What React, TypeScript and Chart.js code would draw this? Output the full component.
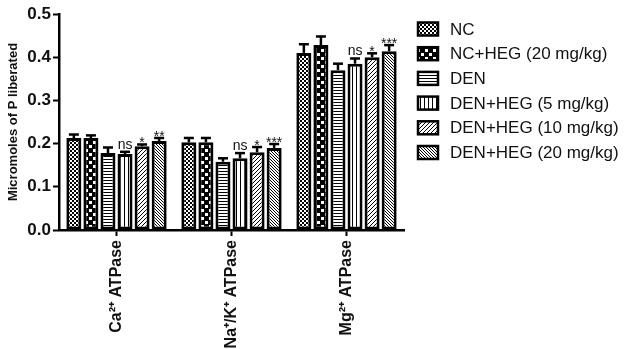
import React, { useEffect, useRef } from "react";
import { Chart, registerables } from "chart.js";
Chart.register(...registerables);

const categories = ["Ca²⁺ ATPase", "Na⁺/K⁺ ATPase", "Mg²⁺ ATPase"];
const seriesNames = [
  "NC",
  "NC+HEG (20 mg/kg)",
  "DEN",
  "DEN+HEG (5 mg/kg)",
  "DEN+HEG (10 mg/kg)",
  "DEN+HEG (20 mg/kg)",
];
const ncValues = [0.213, 0.203, 0.41];
const ncHegValues = [0.213, 0.203, 0.428];
const denValues = [0.178, 0.158, 0.37];
const den5Values = [0.176, 0.166, 0.385];
const den10Values = [0.194, 0.18, 0.4];
const den20Values = [0.206, 0.19, 0.414];

const ncErr = [0.008, 0.01, 0.02];
const ncHegErr = [0.006, 0.01, 0.02];
const denErr = [0.013, 0.008, 0.015];
const den5Err = [0.005, 0.012, 0.012];
const den10Err = [0.004, 0.012, 0.009];
const den20Err = [0.007, 0.009, 0.014];

const ncSig = ["", "", ""];
const ncHegSig = ["", "", ""];
const denSig = ["", "", ""];
const den5Sig = ["ns", "ns", "ns"];
const den10Sig = ["*", "*", "*"];
const den20Sig = ["**", "***", "***"];

const yTicks = [0, 0.1, 0.2, 0.3, 0.4, 0.5];
const yTitle = "Micromoles of P liberated";

const allValues = [ncValues, ncHegValues, denValues, den5Values, den10Values, den20Values];
const allErrs = [ncErr, ncHegErr, denErr, den5Err, den10Err, den20Err];
const allSigs = [ncSig, ncHegSig, denSig, den5Sig, den10Sig, den20Sig];
const patternKinds = ["fine", "checker", "hlines", "vlines", "diagUp", "diagDown"];

const FONT = "'Liberation Sans', Arial, sans-serif";

function makePattern(kind: string): CanvasPattern | string {
  const c = document.createElement("canvas");
  let s = 4;
  if (kind === "checker") s = 8;
  if (kind === "hlines") s = 3;
  if (kind === "vlines") s = 4;
  if (kind === "diagUp") s = 4;
  if (kind === "diagDown") s = 3;
  c.width = s;
  c.height = s;
  const ctx = c.getContext("2d")!;
  ctx.fillStyle = "#fff";
  ctx.fillRect(0, 0, s, s);
  ctx.fillStyle = "#000";
  if (kind === "fine") {
    ctx.fillRect(0, 0, 2, 2);
    ctx.fillRect(2, 2, 2, 2);
  } else if (kind === "checker") {
    ctx.fillRect(0, 0, s, s);
    ctx.fillStyle = "#fff";
    ctx.fillRect(1, 1, 3, 3);
    ctx.fillRect(5, 5, 3, 3);
  } else if (kind === "hlines") {
    ctx.fillRect(0, 0, s, 1);
  } else if (kind === "vlines") {
    ctx.fillRect(0, 0, 1, s);
  } else if (kind === "diagUp") {
    for (let i = 0; i < s; i++) ctx.fillRect(i, s - 1 - i, 1, 1);
  } else if (kind === "diagDown") {
    for (let i = 0; i < s; i++) ctx.fillRect(i, i, 1, 1);
  }
  return ctx.createPattern(c, "repeat") || "#888";
}

export default function App() {
  const ref = useRef<HTMLCanvasElement | null>(null);

  useEffect(() => {
    document.body.style.margin = "0";
    const canvas = ref.current;
    if (!canvas) return;
    const patterns = patternKinds.map((k) => makePattern(k));

    const errPlugin = {
      id: "errbars",
      afterDatasetsDraw(chart: any) {
        const ctx = chart.ctx as CanvasRenderingContext2D;
        const ys = chart.scales.y;
        chart.data.datasets.forEach((_ds: any, di: number) => {
          const meta = chart.getDatasetMeta(di);
          meta.data.forEach((bar: any, i: number) => {
            const v = allValues[di][i];
            const e = allErrs[di][i];
            const x = bar.x;
            const yTop = ys.getPixelForValue(v);
            const yErr = ys.getPixelForValue(v + e);
            ctx.save();
            ctx.strokeStyle = "#000";
            ctx.lineWidth = 2.5;
            ctx.beginPath();
            ctx.moveTo(x, yTop);
            ctx.lineTo(x, yErr);
            ctx.stroke();
            ctx.beginPath();
            ctx.moveTo(x - 5, yErr);
            ctx.lineTo(x + 5, yErr);
            ctx.stroke();
            const s = allSigs[di][i];
            if (s) {
              ctx.fillStyle = "#111";
              ctx.font = `14px ${FONT}`;
              ctx.textAlign = "center";
              ctx.textBaseline = "alphabetic";
              const off = s.startsWith("*") ? 3 : -3;
              ctx.fillText(s, x, yErr + off);
            }
            ctx.restore();
          });
        });
      },
    };

    const legendPlugin = {
      id: "customLegend",
      afterDraw(chart: any) {
        const ctx = chart.ctx as CanvasRenderingContext2D;
        ctx.save();
        seriesNames.forEach((name, i) => {
          const cy = 29 + i * 24.7;
          ctx.fillStyle = patterns[i] as any;
          ctx.fillRect(418, cy - 6.5, 20, 13);
          ctx.strokeStyle = "#000";
          ctx.lineWidth = 2.5;
          ctx.strokeRect(418, cy - 6.5, 20, 13);
          ctx.fillStyle = "#111";
          ctx.font = `17px ${FONT}`;
          ctx.textAlign = "left";
          ctx.textBaseline = "middle";
          ctx.fillText(name, 450, cy + 1);
        });
        ctx.restore();
      },
    };

    const chart = new Chart(canvas, {
      type: "bar",
      data: {
        labels: categories,
        datasets: seriesNames.map((name, i) => ({
          label: name,
          data: allValues[i],
          backgroundColor: patterns[i] as any,
          borderColor: "#000",
          borderWidth: 3,
          borderSkipped: false,
          categoryPercentage: 0.89,
          barPercentage: 0.88,
        })),
      },
      options: {
        responsive: false,
        animation: false,
        layout: { padding: { top: 14, right: 223, bottom: 0, left: 0 } },
        plugins: {
          legend: { display: false },
          tooltip: { enabled: false },
        },
        scales: {
          x: {
            afterFit: (scale: any) => {
              scale.height = 119;
            },
            grid: {
              offset: false,
              drawOnChartArea: false,
              drawTicks: true,
              tickLength: 6,
              tickWidth: 2,
              color: "#000",
            },
            border: { display: true, color: "#000", width: 2.5 },
            ticks: {
              color: "#111",
              font: { family: FONT, size: 16, weight: "bold" },
              maxRotation: 90,
              minRotation: 90,
              padding: 4,
              autoSkip: false,
            },
          },
          y: {
            min: 0,
            max: 0.5,
            afterFit: (scale: any) => {
              scale.width = 59;
            },
            afterBuildTicks: (scale: any) => {
              scale.ticks = yTicks.map((v) => ({ value: v }));
            },
            grid: {
              drawOnChartArea: false,
              drawTicks: true,
              tickLength: 6,
              tickWidth: 2,
              color: "#000",
            },
            border: { display: true, color: "#000", width: 2.5 },
            ticks: {
              color: "#111",
              font: { family: FONT, size: 17, weight: "bold" },
              padding: 2,
              callback: (v: any) => Number(v).toFixed(1),
            },
            title: {
              display: true,
              text: yTitle,
              color: "#111",
              font: { family: FONT, size: 13, weight: "bold" },
              padding: { top: 6, bottom: 0 },
            },
          },
        },
      },
      plugins: [errPlugin, legendPlugin],
    });
    return () => chart.destroy();
  }, []);

  return (
    <div style={{ width: 627, height: 349, background: "#fff" }}>
      <canvas ref={ref} width={627} height={349} />
    </div>
  );
}
